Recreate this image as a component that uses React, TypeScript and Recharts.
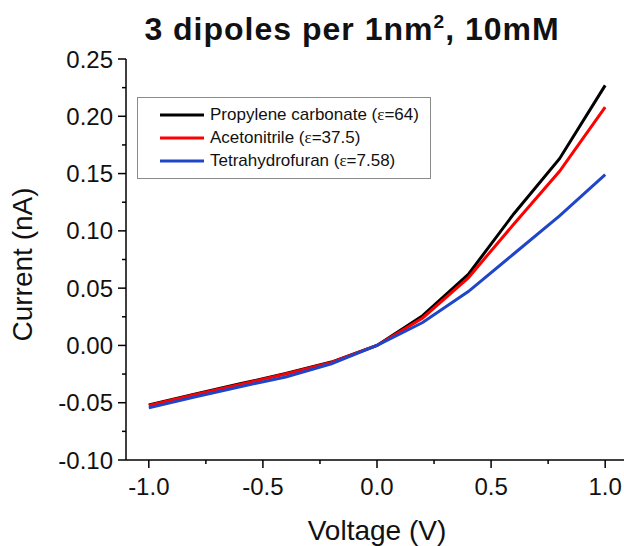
import React from 'react';
import { LineChart, Line, XAxis, YAxis, Legend } from 'recharts';

const VOLTAGE = [-1.0, -0.8, -0.6, -0.4, -0.2, 0.0, 0.2, 0.4, 0.6, 0.8, 1.0];
const PROPYLENE_CARBONATE = [-0.052, -0.0425, -0.0335, -0.0245, -0.0145, 0, 0.026, 0.062, 0.115, 0.163, 0.227];
const ACETONITRILE = [-0.0525, -0.043, -0.034, -0.025, -0.0148, 0, 0.024, 0.059, 0.106, 0.152, 0.208];
const TETRAHYDROFURAN = [-0.0545, -0.045, -0.036, -0.0275, -0.016, 0, 0.02, 0.047, 0.08, 0.113, 0.149];

const SERIES = [
  { key: 'pc', name: 'Propylene carbonate (ε=64)', values: PROPYLENE_CARBONATE, color: '#000000' },
  { key: 'acn', name: 'Acetonitrile (ε=37.5)', values: ACETONITRILE, color: '#ff0000' },
  { key: 'thf', name: 'Tetrahydrofuran (ε=7.58)', values: TETRAHYDROFURAN, color: '#1f45c8' },
];

const X_TICKS = [-1.0, -0.75, -0.5, -0.25, 0.0, 0.25, 0.5, 0.75, 1.0];
const X_MAJOR = [-1.0, -0.5, 0.0, 0.5, 1.0];
const Y_TICKS = [-0.1, -0.075, -0.05, -0.025, 0, 0.025, 0.05, 0.075, 0.1, 0.125, 0.15, 0.175, 0.2, 0.225, 0.25];
const Y_MAJOR = [-0.1, -0.05, 0, 0.05, 0.1, 0.15, 0.2, 0.25];

const FONT = '"Liberation Sans", Arial, sans-serif';

const data = VOLTAGE.map((v, i) => {
  const row: any = { v };
  SERIES.forEach(s => { row[s.key] = s.values[i]; });
  return row;
});

const isMajor = (list: number[], v: number) => list.some(m => Math.abs(m - v) < 1e-9);

// tick line (+ label on majors); bottom/top ticks point down, left/right ticks point left
const makeTick = (majors: number[], orient: 'bottom' | 'top' | 'left' | 'right', showLabel: boolean) => (props: any) => {
  const { x, y, payload } = props;
  const major = isMajor(majors, payload.value);
  const len = major ? 8 : 4;
  const vertical = orient === 'bottom' || orient === 'top';
  const line = vertical
    ? <line x1={x} x2={x} y1={y} y2={y + len} stroke="#000" strokeWidth={1.5} />
    : <line x1={x - len} x2={x} y1={y} y2={y} stroke="#000" strokeWidth={1.5} />;
  let label = null;
  if (showLabel && major) {
    label = orient === 'bottom'
      ? <text x={x} y={y + 35} textAnchor="middle" fontSize={24} fontFamily={FONT} fill="#111">{payload.value.toFixed(1)}</text>
      : <text x={x - 13} y={y} dy="0.36em" textAnchor="end" fontSize={24} fontFamily={FONT} fill="#111">{payload.value.toFixed(2)}</text>;
  }
  return <g>{line}{label}</g>;
};

const LegendBox = (props: any) => {
  const order = SERIES.map(s => s.name);
  const items = [...(props.payload || [])].sort((a: any, b: any) => order.indexOf(a.value) - order.indexOf(b.value));
  return (
    <div style={{ border: '1.5px solid #8a8a8a', padding: '5px 0 6px 0', background: '#fff', fontFamily: FONT, fontSize: 17, color: '#111' }}>
      {items.map((entry: any) => {
        const parts = String(entry.value).split('ε');
        return (
          <div key={entry.value} style={{ display: 'flex', alignItems: 'center', height: 23 }}>
            <svg width={72} height={6} style={{ flex: 'none' }}>
              <line x1={22} x2={66} y1={3} y2={3} stroke={entry.color} strokeWidth={3} />
            </svg>
            <span style={{ whiteSpace: 'nowrap' }}>
              {parts[0]}
              {parts.length > 1 && <span style={{ fontFamily: '"Liberation Serif", serif' }}>ε</span>}
              {parts[1]}
            </span>
          </div>
        );
      })}
    </div>
  );
};

export default function App() {
  return (
    <div style={{ position: 'relative', width: 624, height: 546, overflow: 'hidden', fontFamily: FONT }}>
      <style>{'body{margin:0;overflow:hidden;}'}</style>
      <div style={{ position: 'absolute', top: 14, left: 0, width: 704, textAlign: 'center', fontWeight: 'bold', fontSize: 32, letterSpacing: 1, lineHeight: '31px', color: '#111', zIndex: 2 }}>
        3 dipoles per 1nm<sup style={{ fontSize: '0.6em', lineHeight: 0 }}>2</sup>, 10mM
      </div>
      <LineChart width={648} height={546} data={data} margin={{ top: 59, right: 20, bottom: 26, left: 0 }}>
        <XAxis
          xAxisId="bottom"
          dataKey="v"
          type="number"
          domain={[-1.1, 1.1]}
          ticks={X_TICKS}
          interval={0}
          tickSize={0}
          tickMargin={0}
          tickLine={false}
          height={60}
          axisLine={{ stroke: '#000', strokeWidth: 1.5 }}
          tick={makeTick(X_MAJOR, 'bottom', true)}
          label={({ viewBox }: any) => (
            <text x={viewBox.x + viewBox.width / 2} y={viewBox.y + 80} textAnchor="middle" fontSize={28} fontFamily={FONT} fill="#111">Voltage (V)</text>
          )}
        />
        <XAxis
          xAxisId="top"
          orientation="top"
          dataKey="v"
          type="number"
          domain={[-1.1, 1.1]}
          ticks={X_TICKS}
          interval={0}
          tickSize={0}
          tickMargin={0}
          tickLine={false}
          height={0}
          mirror
          axisLine={{ stroke: '#000', strokeWidth: 1.5 }}
          tick={makeTick(X_MAJOR, 'top', false)}
        />
        <YAxis
          yAxisId="left"
          type="number"
          domain={[-0.1, 0.25]}
          ticks={Y_TICKS}
          interval={0}
          tickSize={0}
          tickMargin={0}
          tickLine={false}
          width={126}
          axisLine={{ stroke: '#000', strokeWidth: 1.5 }}
          tick={makeTick(Y_MAJOR, 'left', true)}
          label={({ viewBox }: any) => {
            const cx = 22;
            const cy = viewBox.y + viewBox.height / 2 + 5;
            return (
              <text x={cx} y={cy} transform={`rotate(-90, ${cx}, ${cy})`} textAnchor="middle" dominantBaseline="central" fontSize={28} fontFamily={FONT} fill="#111">Current (nA)</text>
            );
          }}
        />
        <YAxis
          yAxisId="right"
          orientation="right"
          type="number"
          domain={[-0.1, 0.25]}
          ticks={Y_TICKS}
          interval={0}
          tickSize={0}
          tickMargin={0}
          tickLine={false}
          width={0}
          mirror
          axisLine={{ stroke: '#000', strokeWidth: 1.5 }}
          tick={makeTick(Y_MAJOR, 'right', false)}
        />
        <Legend
          layout="vertical"
          align="center"
          verticalAlign="middle"
          content={<LegendBox />}
          wrapperStyle={{ left: 137, top: 97, width: 294 }}
        />
        {SERIES.map(s => (
          <Line
            key={s.key}
            xAxisId="bottom"
            yAxisId="left"
            dataKey={s.key}
            name={s.name}
            stroke={s.color}
            strokeWidth={3}
            type="linear"
            dot={false}
            activeDot={false}
            isAnimationActive={false}
          />
        ))}
      </LineChart>
    </div>
  );
}
